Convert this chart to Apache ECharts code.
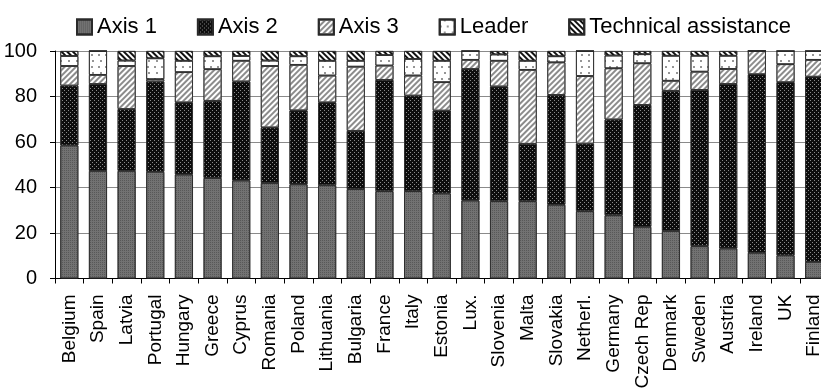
<!DOCTYPE html>
<html>
<head>
<meta charset="utf-8">
<script src="https://cdn.jsdelivr.net/npm/echarts@6/dist/echarts.min.js"></script>
<style>
html,body{margin:0;padding:0;background:#fff;}
#chart{width:821px;height:388px;}
</style>
</head>
<body>
<div id="chart"></div>
<script>
const categories = ["Belgium","Spain","Latvia","Portugal","Hungary","Greece","Cyprus","Romania","Poland","Lithuania","Bulgaria","France","Italy","Estonia","Lux.","Slovenia","Malta","Slovakia","Netherl.","Germany","Czech Rep","Denmark","Sweden","Austria","Ireland","UK","Finland"];
const seriesNames = ["Axis 1","Axis 2","Axis 3","Leader","Technical assistance"];
const axis1 = [58.5,47.3,47.3,46.9,45.7,44.2,43.1,42.0,41.4,41.0,39.3,38.4,38.4,37.4,34.3,34.0,34.0,32.4,29.6,27.8,22.7,20.9,14.2,13.2,11.3,10.2,7.3];
const axis2 = [26.3,38.2,27.2,39.7,31.7,33.9,43.5,24.4,32.5,36.4,25.6,48.9,42.0,36.4,57.8,50.4,25.2,48.3,29.7,42.1,53.6,61.6,68.7,72.3,78.5,76.1,81.4];
const axis3 = [8.6,4.0,18.9,1.0,13.3,13.9,9.1,27.0,20.0,11.8,28.2,6.3,8.8,12.5,4.0,11.3,32.5,14.3,29.7,22.5,18.3,4.4,8.0,6.6,10.2,7.9,7.4];
const leader = [4.4,10.5,2.4,9.2,5.0,5.7,2.1,2.4,3.8,6.5,2.6,4.6,7.3,9.4,3.9,2.8,4.0,2.7,11.0,5.6,4.0,11.0,7.0,5.8,0,5.8,3.9];
const techAssist = [2.2,0,4.2,3.2,4.3,2.3,2.2,4.2,2.3,4.3,4.3,1.8,3.5,4.3,0,1.5,4.3,2.3,0,2.0,1.4,2.1,2.1,2.1,0,0,0];
const yTicks = [0,20,40,60,80,100];

const FONT = "'Liberation Sans', Arial, sans-serif";
const styles = [
  {color:'#727272', decal:{symbol:'rect', symbolSize:1, dashArrayX:[1,1], dashArrayY:[1,1], color:'rgba(40,40,40,0.35)'}},
  {color:'#0d0d0d', decal:{symbol:'rect', symbolSize:1, dashArrayX:[[1,3],[0,2,1,1]], dashArrayY:[1,1], color:'#8a8a8a'}},
  {color:'#ffffff', decal:{symbol:'rect', symbolSize:1, dashArrayX:[1,0], dashArrayY:[2,2], rotation:-Math.PI/4, color:'#8c8c8c'}},
  {color:'#ffffff', decal:{symbol:'circle', symbolSize:0.8, dashArrayX:[[2,5],[0,3.5,2,1.5]], dashArrayY:[2,4], color:'#111'}},
  {color:'#ffffff', decal:{symbol:'rect', symbolSize:1, dashArrayX:[1,0], dashArrayY:[2,2], rotation:Math.PI/4, color:'#111'}}
];
const values = [axis1, axis2, axis3, leader, techAssist];

const chart = echarts.init(document.getElementById('chart'), null, {renderer:'canvas'});
chart.setOption({
  animation:false,
  backgroundColor:'#fff',
  textStyle:{fontFamily:FONT},
  legend:{
    top:11, left:71,
    icon:'rect',
    itemWidth:15, itemHeight:15, itemGap:40,
    textStyle:{fontSize:22, color:'#000', fontFamily:FONT},
    data:seriesNames
  },
  grid:{left:55, top:51, width:773.5, height:227.5, outerBoundsMode:'none', containLabel:false},
  xAxis:{
    type:'category', data:categories,
    axisLine:{lineStyle:{color:'#000', width:1}},
    axisTick:{show:true, length:5, lineStyle:{color:'#000'}},
    axisLabel:{rotate:90, interval:0, fontSize:19, color:'#000', margin:16, fontFamily:FONT}
  },
  yAxis:{
    type:'value', min:yTicks[0], max:yTicks[yTicks.length-1], interval:20,
    axisLine:{show:true, lineStyle:{color:'#000', width:1}},
    axisTick:{show:true, length:5, lineStyle:{color:'#000'}},
    axisLabel:{fontSize:20, color:'#000', margin:18, fontFamily:FONT},
    splitLine:{show:true, lineStyle:{color:'#8a8a8a', width:1}}
  },
  series: seriesNames.map((n,i)=>({
    name:n, type:'bar', stack:'total', barWidth:18,
    data: values[i],
    itemStyle:{color:styles[i].color, decal:styles[i].decal, borderColor:'#2a2a2a', borderWidth:0.8}
  }))
});
</script>
</body>
</html>
